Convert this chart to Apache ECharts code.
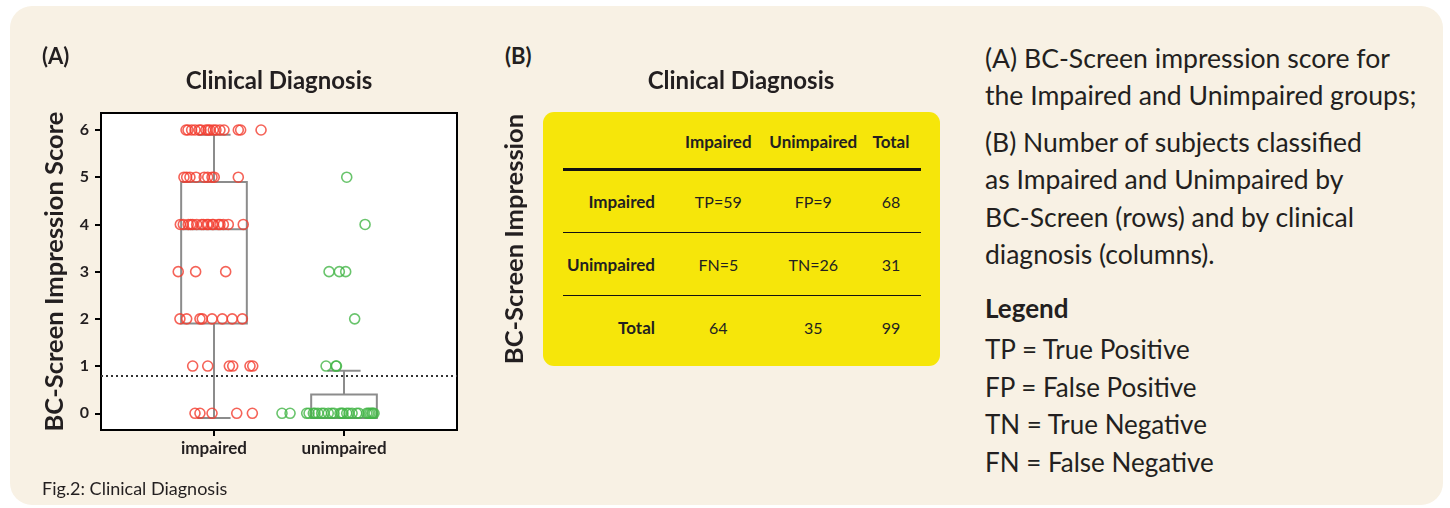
<!DOCTYPE html>
<html>
<head>
<meta charset="utf-8">
<script src="https://cdn.jsdelivr.net/npm/echarts@6/dist/echarts.min.js"></script>
<style>
  html, body { margin:0; padding:0; width:1450px; height:508px; overflow:hidden; background:#ffffff; font-family: Lato, "Noto Sans", sans-serif; color:#231f20; }
  #card { position:absolute; left:10px; top:6px; width:1433px; height:499px; background:#f8f1e4; border-radius:22px; }
  #chart { position:absolute; left:0; top:0; width:480px; height:508px; }
  .abs { position:absolute; white-space:nowrap; }
  .panel { font-weight:700; font-size:22px; line-height:24px; }
  .ttl { font-weight:700; font-size:24px; line-height:28px; text-align:center; width:260px; }
  #ytable { font-weight:700; font-size:25.5px; line-height:30px; width:300px; text-align:center; transform:rotate(-90deg); }
  #yellow { position:absolute; left:543px; top:112px; width:397px; height:254px; background:#f6e60a; border-radius:11px; }
  .cell { position:absolute; white-space:nowrap; line-height:24px; }
  .hd { font-weight:700; font-size:17px; }
  .bd { font-weight:400; font-size:16px; }
  .rule { position:absolute; background:#111; }
  .rt { position:absolute; left:985px; font-size:26px; white-space:nowrap; color:#231f20; }
</style>
</head>
<body>
<div id="card"></div>
<div id="chart"></div>
<div class="abs panel" style="left:42px; top:44px;">(A)</div>
<div class="abs panel" style="left:505px; top:44px;">(B)</div>
<div class="abs" style="left:42px; top:477px; font-size:18px; line-height:22px;">Fig.2: Clinical Diagnosis</div>
<div class="abs ttl" style="left:149px; top:66px;">Clinical Diagnosis</div>
<div class="abs ttl" style="left:611px; top:66px;">Clinical Diagnosis</div>
<div class="abs" id="ytable" style="left:363px; top:224px;">BC-Screen Impression</div>
<div id="yellow"></div>
<div id="tablelayer"></div>
<div id="righttext"></div>
<script>
// ---------------- DATA ----------------
const categories = ['impaired', 'unimpaired'];

// Panel A: BC-Screen impression scores (jittered horizontal positions around category 1 / 2)
const impairedScores = [
  0,0,0,0,0,
  1,1,1,1,1,1,
  2,2,2,2,2,2,2,2,
  3,3,3,
  4,4,4,4,4,4,4,4,4,4,4,4,4,4,4,4,4,
  5,5,5,5,5,5,5,5,5,
  6,6,6,6,6,6,6,6,6,6,6,6,6,6,6,6
];
const impairedJitterX = [
  0.854,0.892,0.985,1.175,1.295,
  0.836,0.952,1.118,1.144,1.277,1.298,
  0.738,0.790,0.892,0.910,0.985,1.064,1.140,1.218,
  0.725,0.859,1.090,
  0.741,0.764,0.802,0.821,0.836,0.867,0.905,0.918,0.946,0.956,0.987,0.995,1.033,1.046,1.072,1.110,1.225,
  0.769,0.790,0.815,0.862,0.925,0.952,0.985,1.002,1.187,
  0.785,0.800,0.828,0.854,0.885,0.900,0.938,0.954,0.969,0.995,1.015,1.046,1.077,1.187,1.205,1.362
];
const unimpairedScores = [
  0,0,0,0,0,0,0,0,0,0,0,0,0,0,0,0,0,0,0,0,0,0,0,0,0,0,
  1,1,1,
  2,
  3,3,3,
  4,
  5
];
const unimpairedJitterX = [
  1.523,1.585,1.713,1.731,1.764,1.777,1.800,1.828,1.846,1.879,1.905,1.923,1.969,
  1.982,1.992,2.021,2.038,2.062,2.098,2.115,2.175,2.188,2.200,2.213,2.221,2.231,
  1.862,1.938,1.942,
  2.082,
  1.885,1.964,2.013,
  2.162,
  2.021
];
// Box statistics: [position, lower whisker, Q1, median, Q3, upper whisker]
const boxImpaired   = [1, -0.1, 1.9, 3.9, 4.9, 5.9];
const boxUnimpaired = [2, -0.1, -0.1, -0.1, 0.4, 0.9];
const cutoff = 0.79;
const yTicks = [0, 1, 2, 3, 4, 5, 6];
const xTicks = [1, 2];

// Panel B: contingency table
const tableColHeaders = ['Impaired', 'Unimpaired', 'Total'];
const tableRowHeaders = ['Impaired', 'Unimpaired', 'Total'];
const tableRow1 = ['TP=59', 'FP=9', '68'];
const tableRow2 = ['FN=5', 'TN=26', '31'];
const tableRow3 = ['64', '35', '99'];

// Right-hand caption
const captionA = ['(A) BC-Screen impression score for', 'the Impaired and Unimpaired groups;'];
const captionB = ['(B) Number of subjects classified', 'as Impaired and Unimpaired by', 'BC-Screen (rows) and by clinical', 'diagnosis (columns).'];
const legendTitle = 'Legend';
const legendItems = ['TP = True Positive', 'FP = False Positive', 'TN = True Negative', 'FN = False Negative'];

// ---------------- CHART A ----------------
const RED = '#f23c2e', GREEN = '#44b547', BOXC = '#8c8c8c';
const chart = echarts.init(document.getElementById('chart'), null, { renderer: 'canvas' });
const impPts = impairedScores.map((s, i) => [impairedJitterX[i], s]);
const unPts = unimpairedScores.map((s, i) => [unimpairedJitterX[i], s]);

function renderBox(params, api) {
  const x = api.value(0);
  const unit = api.size([1, 0])[0];
  const bw = unit * 0.505 / 2, cw = unit * 0.255 / 2;
  const pLo = api.coord([x, api.value(1)]);
  const pQ1 = api.coord([x, api.value(2)]);
  const pMed = api.coord([x, api.value(3)]);
  const pQ3 = api.coord([x, api.value(4)]);
  const pHi = api.coord([x, api.value(5)]);
  const cx = pLo[0];
  const style = { stroke: BOXC, lineWidth: 2, fill: null };
  return { type: 'group', children: [
    { type: 'line', shape: { x1: cx, y1: pHi[1], x2: cx, y2: pQ3[1] }, style },
    { type: 'line', shape: { x1: cx, y1: pQ1[1], x2: cx, y2: pLo[1] }, style },
    { type: 'line', shape: { x1: cx - cw, y1: pHi[1], x2: cx + cw, y2: pHi[1] }, style },
    { type: 'line', shape: { x1: cx - cw, y1: pLo[1], x2: cx + cw, y2: pLo[1] }, style },
    { type: 'rect', shape: { x: cx - bw, y: pQ3[1], width: 2 * bw, height: pQ1[1] - pQ3[1] }, style },
    { type: 'line', shape: { x1: cx - bw, y1: pMed[1], x2: cx + bw, y2: pMed[1] }, style }
  ]};
}

chart.setOption({
  animation: false,
  backgroundColor: 'transparent',
  grid: { left: 101, right: 23, top: 113, bottom: 78, show: true, backgroundColor: '#ffffff', borderColor: '#000', borderWidth: 2 },
  xAxis: {
    type: 'value', min: 0.131, max: 2.869,
    splitLine: { show: false },
    axisLine: { show: true, onZero: false, lineStyle: { color: '#000', width: 2 } },
    axisTick: { show: true, customValues: xTicks, length: 6, lineStyle: { color: '#000', width: 2 } },
    axisLabel: { customValues: xTicks, formatter: v => categories[Math.round(v) - 1], fontFamily: 'Lato', fontWeight: 'bold', fontSize: 17, color: '#231f20', margin: 10 }
  },
  yAxis: {
    type: 'value', min: -0.354, max: 6.36,
    name: 'BC-Screen Impression Score', nameLocation: 'middle', nameGap: 33, nameRotate: 90,
    nameTextStyle: { fontFamily: 'Lato', fontWeight: 'bold', fontSize: 25.5, color: '#231f20' },
    splitLine: { show: false },
    axisLine: { show: true, onZero: false, lineStyle: { color: '#000', width: 2 } },
    axisTick: { show: true, customValues: yTicks, length: 6, lineStyle: { color: '#000', width: 2 } },
    axisLabel: { customValues: yTicks, fontFamily: 'Lato', fontWeight: 'bold', fontSize: 16, color: '#231f20', margin: 12 }
  },
  series: [
    { type: 'custom', renderItem: renderBox, data: [boxImpaired, boxUnimpaired], z: 2, silent: true },
    {
      type: 'scatter', data: impPts, symbol: 'circle', symbolSize: 10, z: 3,
      itemStyle: { color: 'rgba(0,0,0,0)', borderColor: RED, borderWidth: 1.6 },
      markLine: {
        silent: true, symbol: ['none', 'none'], label: { show: false },
        lineStyle: { type: [2, 3], color: '#333', width: 2 },
        data: [{ yAxis: cutoff }]
      }
    },
    {
      type: 'scatter', data: unPts, symbol: 'circle', symbolSize: 10, z: 3,
      itemStyle: { color: 'rgba(0,0,0,0)', borderColor: GREEN, borderWidth: 1.6 }
    }
  ]
});

// ---------------- TABLE B ----------------
const layer = document.getElementById('tablelayer');
const rowCenters = [141.7, 202.3, 265, 328.3];
const colCenters = [718.3, 813.3, 891];
const labelRight = 655;
function addCell(text, cls, cx, cy, align) {
  const d = document.createElement('div');
  d.className = 'cell ' + cls;
  d.textContent = text;
  d.style.top = (cy - 12) + 'px';
  if (align === 'right') { d.style.right = (1450 - cx) + 'px'; d.style.textAlign = 'right'; }
  else { d.style.left = (cx - 60) + 'px'; d.style.width = '120px'; d.style.textAlign = 'center'; }
  layer.appendChild(d);
}
tableColHeaders.forEach((t, j) => addCell(t, 'hd', colCenters[j], rowCenters[0]));
[tableRow1, tableRow2, tableRow3].forEach((row, i) => {
  addCell(tableRowHeaders[i], 'hd', labelRight, rowCenters[i + 1], 'right');
  row.forEach((t, j) => addCell(t, 'bd', colCenters[j], rowCenters[i + 1]));
});
[[169, 3], [232.3, 1.5], [295.7, 1.5]].forEach(([y, h]) => {
  const r = document.createElement('div');
  r.className = 'rule';
  r.style.left = '563px'; r.style.width = '358px';
  r.style.top = (y - h / 2) + 'px'; r.style.height = h + 'px';
  layer.appendChild(r);
});

// ---------------- CAPTION ----------------
const rt = document.getElementById('righttext');
function addBlock(lines, top, lh, bold, size) {
  const d = document.createElement('div');
  d.className = 'rt';
  d.style.top = top + 'px';
  d.style.lineHeight = lh + 'px';
  if (size) d.style.fontSize = size + 'px';
  if (bold) d.style.fontWeight = '700';
  lines.forEach((l, i) => { if (i) d.appendChild(document.createElement('br')); d.appendChild(document.createTextNode(l)); });
  rt.appendChild(d);
}
addBlock(captionA, 39.8, 37, false, 26.6);
addBlock(captionB, 124, 37.4, false, 26.5);
addBlock([legendTitle], 289.8, 37, true);
addBlock(legendItems, 331.3, 37.4, false);
</script>
</body>
</html>
